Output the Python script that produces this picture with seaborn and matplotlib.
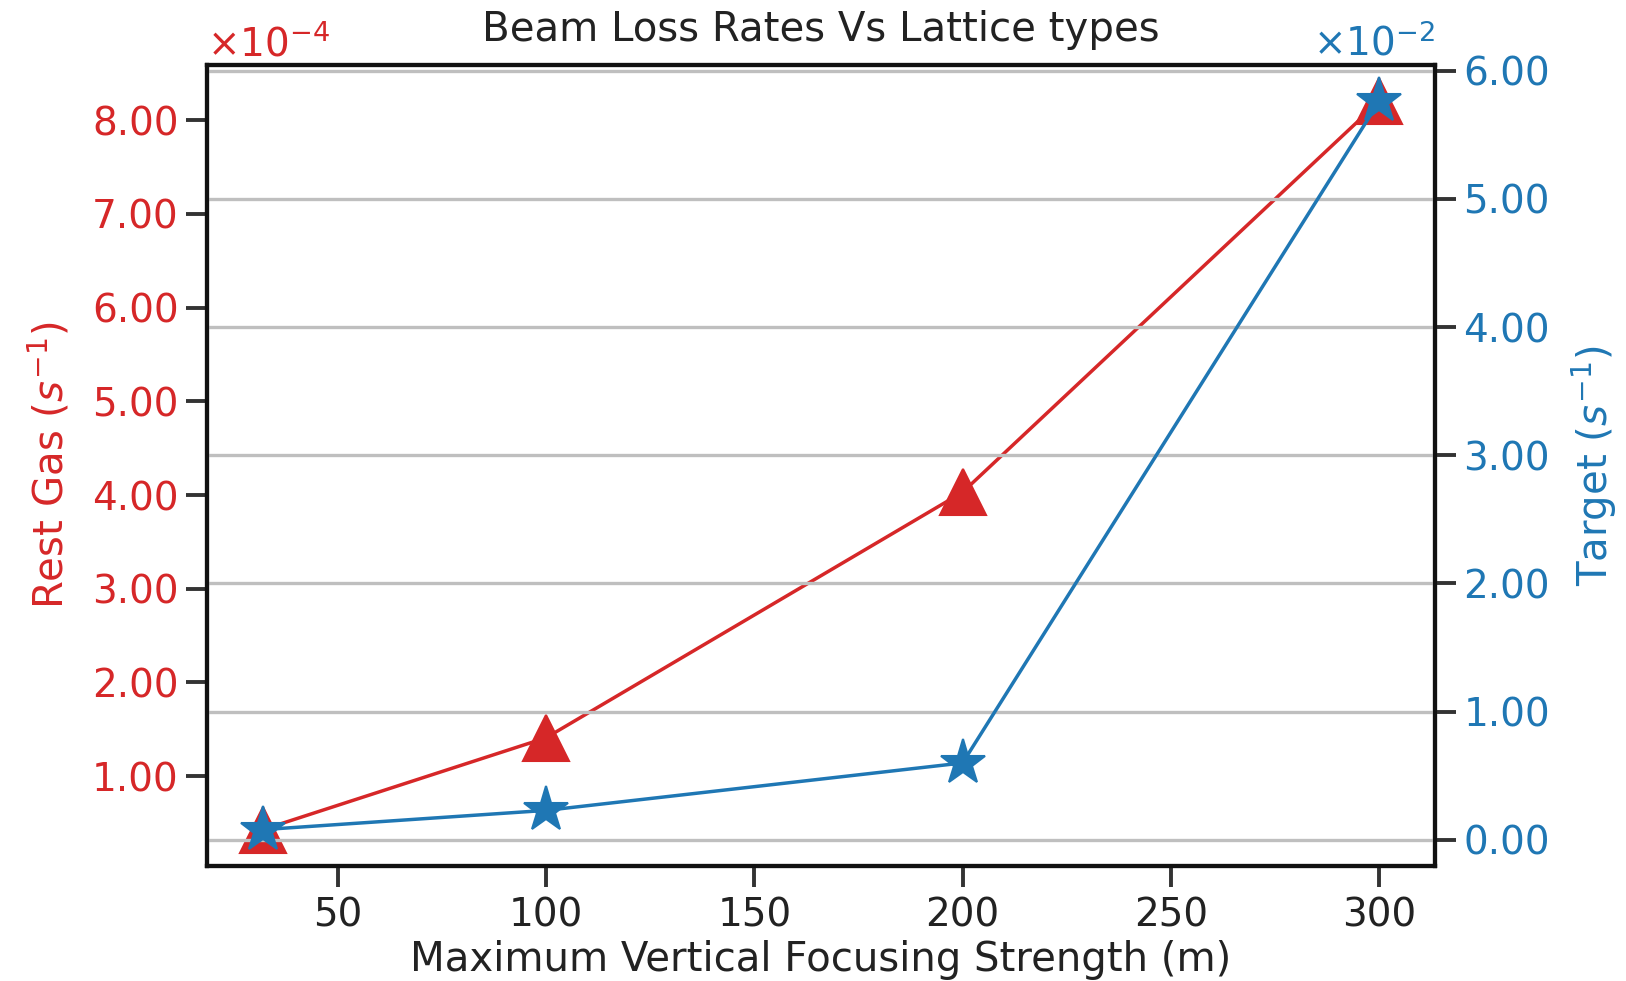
import numpy as np
import pandas as pd
import matplotlib
matplotlib.use("Agg")
import matplotlib.pyplot as plt
from matplotlib.ticker import ScalarFormatter, MultipleLocator
import seaborn as sns

# Beam loss rates per lattice type
focusing_strength = [32, 100, 200, 300]               # m
rest_gas_rate = [0.43e-4, 1.41e-4, 4.03e-4, 8.20e-4]  # s^-1
target_rate = [0.08e-2, 0.23e-2, 0.60e-2, 5.76e-2]   # s^-1

RED = "#d62728"
BLUE = "#1f77b4"

sns.set_theme(style="white")
plt.rcParams["font.family"] = ["DejaVu Sans"]
plt.rcParams["mathtext.fontset"] = "dejavusans"


class FixedSciFormatter(ScalarFormatter):
    """Scientific offset with two decimals on the tick labels."""
    def _set_format(self):
        self.format = "%.2f"


df = pd.DataFrame({"x": focusing_strength,
                   "rest_gas": rest_gas_rate,
                   "target": target_rate})

fig = plt.figure(figsize=(16.26, 9.81), dpi=100)
ax1 = fig.add_axes([0.1273, 0.1172, 0.8825 - 0.1273, 0.9337 - 0.1172])
ax2 = ax1.twinx()

sns.lineplot(data=df, x="x", y="rest_gas", ax=ax1, color=RED, marker="^",
             markersize=33, markeredgewidth=1.5, markeredgecolor=RED,
             linewidth=2.5)
sns.lineplot(data=df, x="x", y="target", ax=ax2, color=BLUE, marker="*",
             markersize=34, markeredgewidth=1.5, markeredgecolor=BLUE,
             linewidth=2.5)

label_fs = 29
tick_fs = 28

for ax, color, step, side in ((ax1, RED, 1e-4, "left"), (ax2, BLUE, 1e-2, "right")):
    fmt = FixedSciFormatter(useMathText=True)
    fmt.set_powerlimits((0, 0))
    ax.yaxis.set_major_formatter(fmt)
    ax.yaxis.set_major_locator(MultipleLocator(step))
    ax.yaxis.OFFSETTEXTPAD = 7
    ax.tick_params(axis="y", colors="#333333", labelcolor=color,
                   labelsize=tick_fs, length=15, width=2.8, pad=5.5,
                   left=(side == "left"), right=(side == "right"))
    ax.yaxis.get_offset_text().set_color(color)
    ax.yaxis.get_offset_text().set_fontsize(tick_fs)
    for sp in ax.spines.values():
        sp.set_color("#111111")
        sp.set_linewidth(3.0)

ax1.tick_params(axis="x", colors="#333333", labelcolor="#222222",
                labelsize=tick_fs, length=15, width=2.8, pad=7, bottom=True)
ax1.set_xticks([50, 100, 150, 200, 250, 300])

ax1.grid(False)
ax2.grid(True, axis="y", color="#bfbfbf", linewidth=2.4)
ax2.grid(False, axis="x")

ax1.set_xlabel("Maximum Vertical Focusing Strength (m)", fontsize=label_fs,
               color="#222222", labelpad=4)
ax1.set_ylabel("Rest Gas ($s^{-1}$)", fontsize=label_fs, color=RED, labelpad=14)
ax2.set_ylabel("Target ($s^{-1}$)", fontsize=label_fs, color=BLUE, labelpad=14)
ax1.set_title("Beam Loss Rates Vs Lattice types", fontsize=29, color="#222222",
              pad=17)

fig.savefig("out.png", dpi=100)
